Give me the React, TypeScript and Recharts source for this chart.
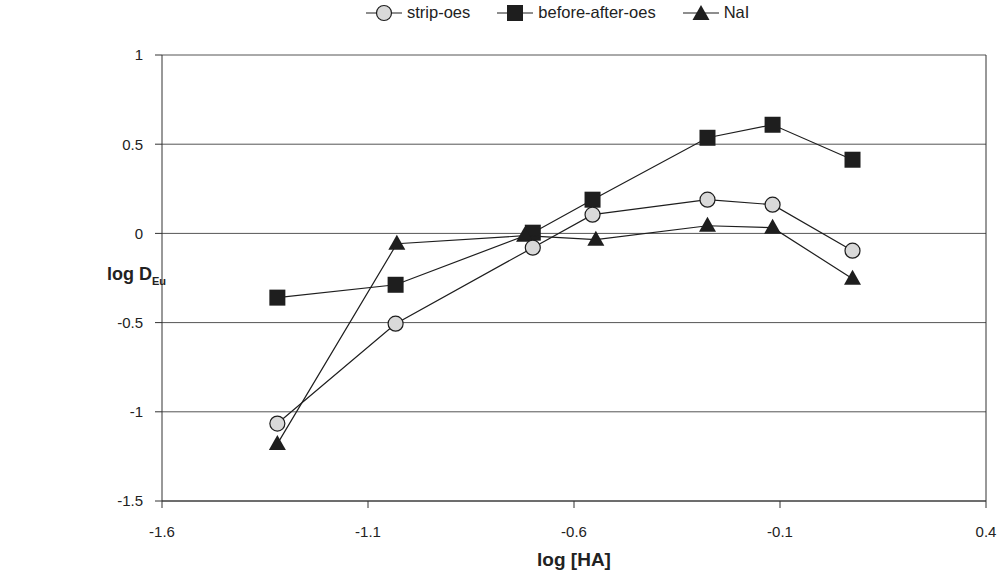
import { CartesianGrid, ReferenceLine, Scatter, ScatterChart, XAxis, YAxis } from 'recharts'

const logHA = [-1.32, -1.033, -0.7, -0.555, -0.276, -0.118, 0.076]
const logHANaI = [-1.32, -1.03, -0.72, -0.547, -0.276, -0.118, 0.076]
const stripOes = [-1.066, -0.506, -0.08, 0.105, 0.189, 0.161, -0.097]
const beforeAfterOes = [-0.36, -0.288, 0.004, 0.189, 0.536, 0.609, 0.413]
const nai = [-1.18, -0.058, -0.013, -0.035, 0.043, 0.032, -0.254]
const xTicks = [-1.6, -1.1, -0.6, -0.1, 0.4]
const yTicks = [-1.5, -1, -0.5, 0, 0.5, 1]

const font = '"Liberation Sans", Arial, sans-serif'
const ink = '#1e1e1e'
const tickStyle = { fill: '#222', fontSize: 15, fontFamily: font }

const pts = (xs: number[], ys: number[]) => xs.map((x, i) => ({ x, y: ys[i] }))

const Circle = (p: any) => (
  <circle cx={p.cx} cy={p.cy} r={7.5} fill="#d9d9d9" stroke={ink} strokeWidth={1.2} />
)
const Square = (p: any) => (
  <rect x={p.cx - 8} y={p.cy - 8} width={16} height={16} fill={ink} />
)
const Triangle = (p: any) => (
  <polygon
    points={`${p.cx},${p.cy - 9} ${p.cx + 8.5},${p.cy + 6} ${p.cx - 8.5},${p.cy + 6}`}
    fill={ink}
  />
)

function LegendItem({ label, mark }: { label: string; mark: 'circle' | 'square' | 'triangle' }) {
  return (
    <span style={{ display: 'inline-flex', alignItems: 'center', marginRight: 26 }}>
      <svg width={38} height={18}>
        <line x1={1} x2={37} y1={9} y2={9} stroke={ink} strokeWidth={1.2} />
        {mark === 'circle' && <Circle cx={19} cy={9} />}
        {mark === 'square' && <Square cx={19} cy={9} />}
        {mark === 'triangle' && <Triangle cx={19} cy={10} />}
      </svg>
      <span style={{ marginLeft: 4 }}>{label}</span>
    </span>
  )
}

export default function App() {
  return (
    <div style={{ position: 'absolute', left: 0, top: 0, width: 999, height: 584, background: '#fff', fontFamily: font }}>
      <ScatterChart width={999} height={584} margin={{ top: 55, right: 13, bottom: 23, left: 102 }}>
        <CartesianGrid horizontal vertical={false} stroke="#555" strokeDasharray="" />
        <XAxis
          type="number"
          dataKey="x"
          domain={[-1.6, 0.4]}
          ticks={xTicks}
          tick={tickStyle}
          tickSize={7}
          tickMargin={18}
          stroke="#333"
          height={60}
          allowDataOverflow
        />
        <YAxis
          type="number"
          dataKey="y"
          domain={[-1.5, 1]}
          ticks={yTicks}
          tick={tickStyle}
          tickSize={7}
          tickMargin={12}
          stroke="#333"
          width={60}
          allowDataOverflow
        />
        <ReferenceLine x={0.4} stroke="#333" />
        <Scatter
          data={pts(logHA, beforeAfterOes)}
          shape={Square}
          line={{ stroke: ink, strokeWidth: 1.2 }}
          isAnimationActive={false}
        />
        <Scatter
          data={pts(logHANaI, nai)}
          shape={Triangle}
          line={{ stroke: ink, strokeWidth: 1.2 }}
          isAnimationActive={false}
        />
        <Scatter
          data={pts(logHA, stripOes)}
          shape={Circle}
          line={{ stroke: ink, strokeWidth: 1.2 }}
          isAnimationActive={false}
        />
      </ScatterChart>

      <div style={{ position: 'absolute', top: 3, left: 365, fontSize: 16.5, color: '#222', display: 'flex' }}>
        <LegendItem label="strip-oes" mark="circle" />
        <LegendItem label="before-after-oes" mark="square" />
        <LegendItem label="NaI" mark="triangle" />
      </div>

      <div style={{ position: 'absolute', top: 264, left: 107, fontSize: 18, fontWeight: 'bold', color: '#222', whiteSpace: 'nowrap' }}>
        log&nbsp;D<sub style={{ fontSize: 11 }}>Eu</sub>
      </div>
      <div style={{ position: 'absolute', top: 549, left: 0, width: 1148, textAlign: 'center', fontSize: 19, fontWeight: 'bold', color: '#222' }}>
        log [HA]
      </div>
    </div>
  )
}
